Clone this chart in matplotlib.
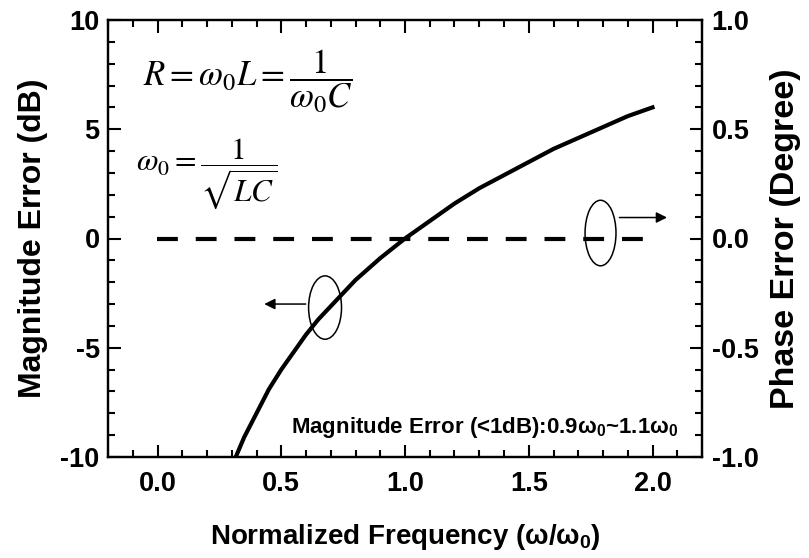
import matplotlib
matplotlib.use("Agg")
import matplotlib.pyplot as plt
from matplotlib.patches import Ellipse
from matplotlib.ticker import MultipleLocator

plt.rcParams['font.family'] = ['Liberation Sans', 'DejaVu Sans']
plt.rcParams['mathtext.fontset'] = 'custom'
plt.rcParams['mathtext.rm'] = 'Liberation Sans:bold'
plt.rcParams['mathtext.it'] = 'Liberation Sans:bold'
plt.rcParams['mathtext.bf'] = 'Liberation Sans:bold'

# Data
freq = [0.32, 0.35, 0.40, 0.45, 0.50, 0.55, 0.60, 0.65, 0.70, 0.75, 0.80, 0.90, 1.00,
        1.10, 1.20, 1.30, 1.40, 1.50, 1.60, 1.70, 1.80, 1.90, 2.00]
mag_err = [-9.9, -9.1, -8.0, -6.9, -6.0, -5.2, -4.4, -3.7, -3.1, -2.5, -1.9, -0.9, 0.0,
           0.8, 1.6, 2.3, 2.9, 3.5, 4.1, 4.6, 5.1, 5.6, 6.0]
phase_freq = [0.0, 0.5, 1.0, 1.5, 2.0]
phase_err = [0.0, 0.0, 0.0, 0.0, 0.0]

xticks = [0.0, 0.5, 1.0, 1.5, 2.0]
yticks_left = [-10, -5, 0, 5, 10]
yticks_right = [-1.0, -0.5, 0.0, 0.5, 1.0]

fig = plt.figure(figsize=(8.09, 5.58), dpi=100)
ax = fig.add_axes([108/809, 1-457/558, (702-108)/809, (457-20)/558])
ax2 = ax.twinx()

ax.plot(freq, mag_err, color='black', lw=3)
ax2.plot(phase_freq, phase_err, color='black', lw=3, ls=(0, (5.0, 4.3)))

ax.set_xlim(-0.2, 2.2)
ax.set_ylim(-10, 10)
ax2.set_ylim(-1, 1)
ax.set_xticks(xticks)
ax.set_xticklabels(['%.1f' % v for v in xticks], fontweight='bold')
ax.set_yticks(yticks_left)
ax.set_yticklabels(['%d' % v for v in yticks_left], fontweight='bold')
ax2.set_yticks(yticks_right)
ax2.set_yticklabels(['%.1f' % v for v in yticks_right], fontweight='bold')
ax.xaxis.set_minor_locator(MultipleLocator(0.1))
ax.yaxis.set_minor_locator(MultipleLocator(1))
ax2.yaxis.set_minor_locator(MultipleLocator(0.1))

for a in (ax, ax2):
    for s in a.spines.values():
        s.set_linewidth(1.6)
ax.tick_params(which='both', direction='in', top=True, width=1.5, labelsize=19.5)
ax.tick_params(which='major', length=9)
ax.tick_params(which='minor', length=5)
ax.tick_params(axis='x', pad=10)
ax.tick_params(axis='y', pad=6)
ax2.tick_params(which='both', direction='in', width=1.5, labelsize=19.5, pad=7)
ax2.tick_params(which='major', length=9)
ax2.tick_params(which='minor', length=5)

ax.set_xlabel('Normalized Frequency (ω/ω$_0$)', fontsize=20, fontweight='bold', labelpad=18)
ax.set_ylabel('Magnitude Error (dB)', fontsize=23, fontweight='bold', labelpad=9)
ax2.set_ylabel('Phase Error (Degree)', fontsize=24.5, fontweight='bold', labelpad=8)

# Formulas
ax.text(-0.06, 7.2, r'$R=\omega_0L=\dfrac{1}{\omega_0C}$', fontsize=25,
        math_fontfamily='stix', va='center', ha='left')
ax.text(-0.085, 2.95, r'$\omega_0=\dfrac{1}{\sqrt{LC}}$', fontsize=22.5,
        math_fontfamily='stix', va='center', ha='left')

ax.text(2.105, -8.9, 'Magnitude Error (<1dB):0.9ω$_0$~1.1ω$_0$', fontsize=16,
        fontweight='bold', ha='right', va='baseline')

# Ellipses and arrows
ax.add_patch(Ellipse((0.677, -3.16), 0.133, 2.9, fill=False, lw=1.1, color='black'))
ax.annotate('', xy=(0.42, -3.0), xytext=(0.61, -3.0),
            arrowprops=dict(arrowstyle='-|>', color='black', lw=1.1, mutation_scale=16))
ax.add_patch(Ellipse((1.79, 0.25), 0.125, 3.0, fill=False, lw=1.1, color='black'))
ax.annotate('', xy=(2.07, 0.96), xytext=(1.855, 0.96),
            arrowprops=dict(arrowstyle='-|>', color='black', lw=1.1, mutation_scale=16))

fig.savefig('out.png', dpi=100)
